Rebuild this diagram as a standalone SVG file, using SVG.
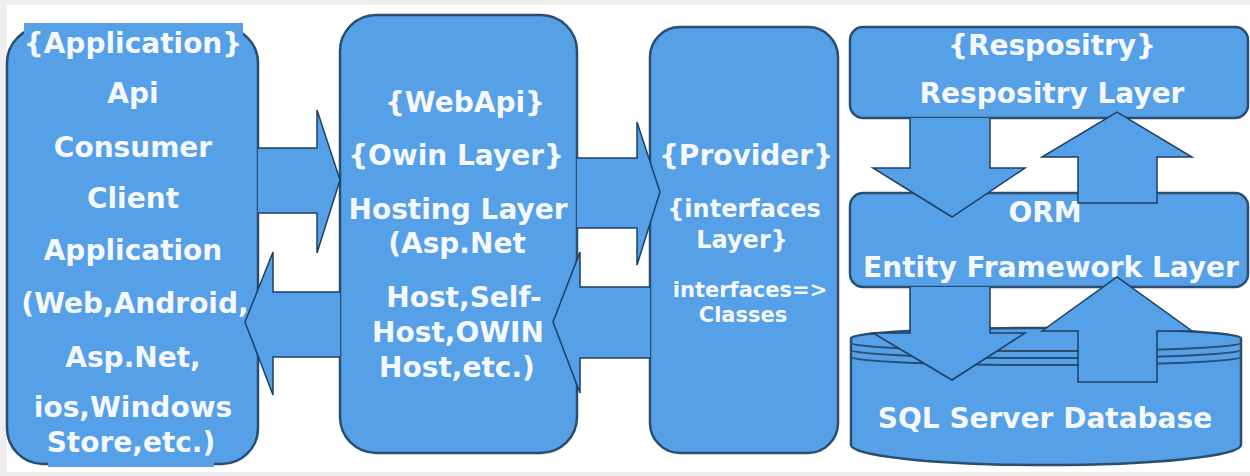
<svg xmlns="http://www.w3.org/2000/svg" width="1250" height="476" viewBox="0 0 1250 476">
  <style>
    .box { fill: #55a0e6; stroke: #2a4d70; stroke-width: 2.5; }
    .arr { fill: #55a0e6; stroke: #1f3f63; stroke-width: 1.5; stroke-linejoin: miter; }
    .hl { fill: #55a0e6; stroke: none; }
    .ring { fill: none; stroke: #2a4d70; stroke-width: 2; }
    text { font-family: "DejaVu Sans", Verdana, sans-serif; font-weight: bold; fill: #f5f9ff; text-anchor: middle; }
    .t28 { font-size: 28px; }
    .t24 { font-size: 24px; }
    .t21 { font-size: 21px; }
  </style>
  <rect x="0" y="0" width="1250" height="476" fill="#eeeeee"/>
  <rect x="7" y="5" width="1243" height="467" fill="#ffffff"/>

  <g id="app">
    <rect class="box" x="7" y="27" width="251" height="437" rx="36" ry="36"/>
    <rect class="hl" x="24" y="23" width="219" height="34"/>
    <rect class="hl" x="48" y="436" width="166" height="31"/>
    <text class="t28" x="133" y="53">{Application}</text>
    <text class="t28" x="133" y="103">Api</text>
    <text class="t28" x="133" y="157">Consumer</text>
    <text class="t28" x="133" y="208">Client</text>
    <text class="t28" x="133" y="260">Application</text>
    <text class="t28" x="135" y="313">(Web,Android,</text>
    <text class="t28" x="133" y="367">Asp.Net,</text>
    <text class="t28" x="133" y="417">ios,Windows</text>
    <text class="t28" x="131" y="452">Store,etc.)</text>
  </g>

  <g id="webapi">
    <rect class="box" x="340" y="15" width="237" height="438" rx="36" ry="36"/>
    <text class="t28" x="465" y="112">{WebApi}</text>
    <text class="t28" x="456" y="165">{Owin Layer}</text>
    <text class="t28" x="458" y="219">Hosting Layer</text>
    <text class="t28" x="457" y="253">(Asp.Net</text>
    <text class="t28" x="464" y="307">Host,Self-</text>
    <text class="t28" x="458" y="342">Host,OWIN</text>
    <text class="t28" x="457" y="377">Host,etc.)</text>
  </g>

  <g id="provider">
    <rect class="box" x="650" y="27" width="188" height="426" rx="30" ry="30"/>
    <text class="t28" x="746" y="165">{Provider}</text>
    <text class="t24" x="744" y="217">{interfaces</text>
    <text class="t24" x="742" y="248">Layer}</text>
    <text class="t21" x="750" y="297">interfaces=&gt;</text>
    <text class="t21" x="743" y="322">Classes</text>
  </g>

  <g id="repository">
    <rect class="box" x="850" y="27" width="398" height="91" rx="13" ry="13"/>
    <text class="t28" x="1052" y="55">{Respositry}</text>
    <text class="t28" x="1052" y="103">Respositry Layer</text>
  </g>

  <g id="orm">
    <rect class="box" x="850" y="193" width="398" height="94" rx="13" ry="13"/>
    <text class="t28" x="1045" y="222">ORM</text>
    <text class="t28" x="1051" y="277">Entity Framework Layer</text>
  </g>

  <g id="database">
    <path class="box" d="M851,338 L851,445 A195,20 0 0 0 1241,445 L1241,338 A195,10 0 0 0 851,338 Z"/>
    <path class="ring" d="M851,343 A195,8 0 0 0 1241,343"/>
    <path class="ring" d="M851,350 A195,8 0 0 0 1241,350"/>
    <path class="ring" d="M851,357 A195,8 0 0 0 1241,357"/>
  </g>

  <g id="connectors">
    <!-- App -> WebApi -->
    <path class="arr" d="M258,148 L317,148 L317,110 L340,180 L317,253 L317,213 L258,213"/>
    <!-- WebApi -> App -->
    <path class="arr" d="M340,292 L273,292 L273,252 L245,322 L273,395 L273,357 L340,357"/>
    <!-- WebApi -> Provider -->
    <path class="arr" d="M577,158 L637,158 L637,122 L660,192 L637,265 L637,228 L577,228"/>
    <!-- Provider -> WebApi -->
    <path class="arr" d="M650,287 L580,287 L580,252 L553,322 L580,393 L580,358 L650,358"/>
    <!-- Repository -> ORM -->
    <path class="arr" d="M910,118 L910,168 L873,168 L952,217 L1025,168 L990,168 L990,118"/>
    <!-- ORM -> Repository -->
    <path class="arr" d="M1078,203 L1078,157 L1042,157 L1117,112 L1192,157 L1157,157 L1157,203 Z"/>
    <!-- ORM -> Database -->
    <path class="arr" d="M910,287 L910,333 L873,333 L952,380 L1025,333 L990,333 L990,287"/>
    <!-- Database -> ORM -->
    <path class="arr" d="M1078,382 L1078,331 L1042,331 L1117,277 L1192,331 L1157,331 L1157,382 Z"/>
  </g>
  <text class="t28" x="1045" y="428">SQL Server Database</text>
</svg>
